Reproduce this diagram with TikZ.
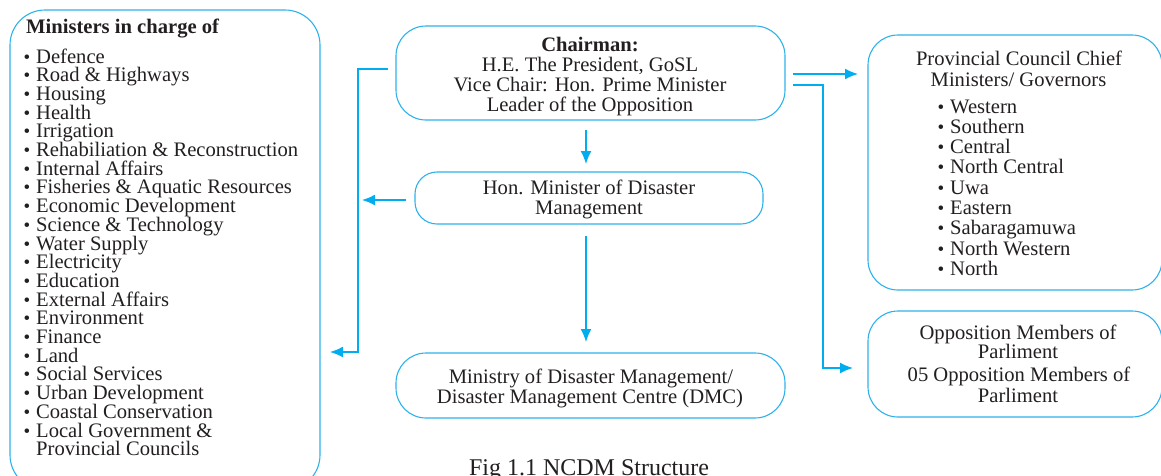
\documentclass[tikz,border=0pt]{standalone}
\usepackage{fontspec}
\setmainfont{Liberation Serif}
\usetikzlibrary{arrows.meta}
\definecolor{arrc}{RGB}{0,174,239}
\definecolor{boxc}{RGB}{45,178,234}
\definecolor{txtc}{RGB}{35,31,32}
\newcommand\msz{\fontsize{20.6}{20.6}\selectfont}
\newcommand\capsz{\fontsize{24}{24}\selectfont}
\begin{document}
\begin{tikzpicture}[x=1pt,y=-1pt,
  box/.style={draw=boxc, line width=1.1pt, inner sep=0pt, outer sep=0pt},
  txt/.style={font=\msz, text=txtc, inner sep=0pt, anchor=base},
  ltxt/.style={txt, anchor=base west},
  bul/.style={font=\fontsize{19}{19}\selectfont, text=txtc, inner sep=0pt, anchor=base},
  arr/.style={draw=arrc, line width=1.5pt, -{Latex[length=13pt,width=11pt]}}
]
\useasboundingbox (0,0) rectangle (1161,475);
\clip (0,0) rectangle (1161,475);

% boxes
\node[box, rounded corners=35pt, minimum width=310pt, minimum height=480pt] (lbox) at (165,250) {};
\node[box, rounded corners=30pt, minimum width=389pt, minimum height=94pt] (chair) at (590.5,73) {};
\node[box, rounded corners=22pt, minimum width=348pt, minimum height=52pt] (honmin) at (589,198) {};
\node[box, rounded corners=30pt, minimum width=389pt, minimum height=65pt] (ministry) at (590.5,385.5) {};
\node[box, rounded corners=30pt, minimum width=294pt, minimum height=255pt] (prov) at (1015,162.5) {};
\node[box, rounded corners=30pt, minimum width=294pt, minimum height=106pt] (opp) at (1015,364) {};

% left list
\node[ltxt, font=\msz\bfseries] (lhead) at (26,33) {Ministers in charge of};
\foreach \t [count=\i from 0] in {Defence, Road \& Highways, Housing, Health, Irrigation, Rehabiliation \& Reconstruction, Internal Affairs, Fisheries \& Aquatic Resources, Economic Development, Science \& Technology, Water Supply, Electricity, Education, External Affairs, Environment, Finance, Land, Social Services, Urban Development, Coastal Conservation, Local Government \&}{
  \node[bul] (lb\i) at (27,63+18.7*\i) {•};
  \node[ltxt] (li\i) at (36,63+18.7*\i) {\t};
}
\node[ltxt] (li21) at (36,63+18.7*21) {Provincial Councils};

% chairman
\node[txt, font=\msz\bfseries] (c1) at (590,51) {Chairman:};
\node[txt] (c2) at (590,71) {H.E. The President, GoSL};
\node[txt] (c3) at (590,91) {Vice Chair: Hon. Prime Minister};
\node[txt] (c4) at (590,111) {Leader of the Opposition};

% hon minister
\node[txt] (h1) at (589,194) {Hon. Minister of Disaster};
\node[txt] (h2) at (589,214) {Management};

% ministry
\node[txt] (m1) at (591,383) {Ministry of Disaster Management/};
\node[txt] (m2) at (590,403) {Disaster Management Centre (DMC)};

% provincial
\node[txt] (p1) at (1019,65) {Provincial Council Chief};
\node[txt] (p2) at (1018.5,86) {Ministers/ Governors};
\foreach \t [count=\i from 0] in {Western, Southern, Central, North Central, Uwa, Eastern, Sabaragamuwa, North Western, North}{
  \node[bul] (pb\i) at (941,113+20.3*\i) {•};
  \node[ltxt] (pi\i) at (950,113+20.3*\i) {\t};
}

% opposition
\node[txt] (o1) at (1018,339) {Opposition Members of};
\node[txt] (o2) at (1018,358) {Parliment};
\node[txt] (o3) at (1019,381) {05 Opposition Members of};
\node[txt] (o4) at (1018,402) {Parliment};

% caption
\node[txt, font=\capsz] (cap) at (589,475) {Fig 1.1 NCDM Structure};

% connectors
\coordinate (lbend) at (358,352);
\coordinate (rbend) at (823,368);
\draw[arr, shorten <=10pt, shorten >=8pt] ([xshift=-4.5pt]chair.south) -- ([xshift=-3pt]honmin.north);
\draw[arr, shorten <=12pt, shorten >=11pt] ([xshift=-3pt]honmin.south) -- ([xshift=-4.5pt]ministry.north);
\draw[arr] ([xshift=-8pt,yshift=4pt]chair.west) -| (lbend) -- ([xshift=10pt]lbox.east |- lbend);
\draw[arr] ([xshift=-9pt,yshift=-2pt]honmin.west) -- ([xshift=4pt,yshift=-2pt]lbend |- honmin.west);
\draw[arr] ([xshift=8pt,yshift=-1pt]chair.east) -- ([xshift=-10pt,yshift=-1pt]prov.west |- chair.east);
\draw[arr] ([xshift=8pt,yshift=-12pt]chair.east) -| (rbend) -- ([xshift=-15pt]opp.west |- rbend);
\end{tikzpicture}
\end{document}
